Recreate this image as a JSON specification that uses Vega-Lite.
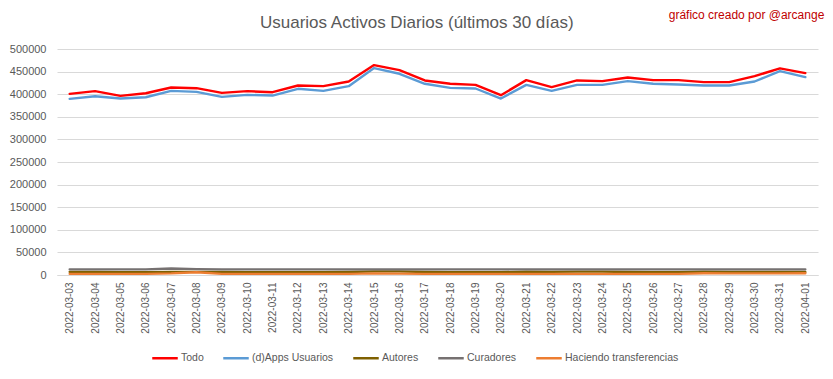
{
  "$schema": "https://vega.github.io/schema/vega-lite/v6.json",
  "autosize": {"type": "none"},
  "width": 761,
  "height": 226,
  "padding": {"left": 57, "top": 49, "right": 15, "bottom": 104},
  "background": "white",
  "datasets": {
    "series": [
      {"fecha": "2022-03-03", "Todo": 400700, "Apps": 389600, "Autores": 7000, "Curadores": 12500, "Trans": 2500},
      {"fecha": "2022-03-04", "Todo": 406700, "Apps": 395600, "Autores": 7000, "Curadores": 12500, "Trans": 2500},
      {"fecha": "2022-03-05", "Todo": 396300, "Apps": 390400, "Autores": 6000, "Curadores": 12500, "Trans": 2500},
      {"fecha": "2022-03-06", "Todo": 402200, "Apps": 393300, "Autores": 6000, "Curadores": 12500, "Trans": 2500},
      {"fecha": "2022-03-07", "Todo": 414800, "Apps": 407400, "Autores": 6500, "Curadores": 14500, "Trans": 3500},
      {"fecha": "2022-03-08", "Todo": 413300, "Apps": 405200, "Autores": 7000, "Curadores": 13000, "Trans": 6000},
      {"fecha": "2022-03-09", "Todo": 403000, "Apps": 394100, "Autores": 6500, "Curadores": 12500, "Trans": 2500},
      {"fecha": "2022-03-10", "Todo": 406700, "Apps": 398500, "Autores": 6000, "Curadores": 12500, "Trans": 2500},
      {"fecha": "2022-03-11", "Todo": 404400, "Apps": 397000, "Autores": 6000, "Curadores": 12500, "Trans": 2500},
      {"fecha": "2022-03-12", "Todo": 419300, "Apps": 411900, "Autores": 6000, "Curadores": 12500, "Trans": 2500},
      {"fecha": "2022-03-13", "Todo": 417800, "Apps": 407400, "Autores": 6000, "Curadores": 12500, "Trans": 2500},
      {"fecha": "2022-03-14", "Todo": 428100, "Apps": 417800, "Autores": 6500, "Curadores": 12500, "Trans": 2500},
      {"fecha": "2022-03-15", "Todo": 464400, "Apps": 457800, "Autores": 8000, "Curadores": 12500, "Trans": 3500},
      {"fecha": "2022-03-16", "Todo": 453300, "Apps": 445200, "Autores": 8000, "Curadores": 12500, "Trans": 3000},
      {"fecha": "2022-03-17", "Todo": 430400, "Apps": 423000, "Autores": 6500, "Curadores": 12500, "Trans": 2500},
      {"fecha": "2022-03-18", "Todo": 423000, "Apps": 414100, "Autores": 6000, "Curadores": 12500, "Trans": 2500},
      {"fecha": "2022-03-19", "Todo": 420700, "Apps": 412600, "Autores": 6000, "Curadores": 12500, "Trans": 2500},
      {"fecha": "2022-03-20", "Todo": 397800, "Apps": 390400, "Autores": 6000, "Curadores": 12500, "Trans": 2500},
      {"fecha": "2022-03-21", "Todo": 431100, "Apps": 420700, "Autores": 7500, "Curadores": 12500, "Trans": 2500},
      {"fecha": "2022-03-22", "Todo": 415600, "Apps": 407400, "Autores": 7000, "Curadores": 12500, "Trans": 2500},
      {"fecha": "2022-03-23", "Todo": 430400, "Apps": 420700, "Autores": 7500, "Curadores": 12500, "Trans": 2500},
      {"fecha": "2022-03-24", "Todo": 428900, "Apps": 420700, "Autores": 7500, "Curadores": 12500, "Trans": 2500},
      {"fecha": "2022-03-25", "Todo": 437000, "Apps": 428900, "Autores": 6500, "Curadores": 12500, "Trans": 2500},
      {"fecha": "2022-03-26", "Todo": 431100, "Apps": 423000, "Autores": 6000, "Curadores": 12500, "Trans": 2500},
      {"fecha": "2022-03-27", "Todo": 431100, "Apps": 421500, "Autores": 6000, "Curadores": 12500, "Trans": 2500},
      {"fecha": "2022-03-28", "Todo": 426700, "Apps": 419300, "Autores": 7500, "Curadores": 12500, "Trans": 4000},
      {"fecha": "2022-03-29", "Todo": 426700, "Apps": 419300, "Autores": 6500, "Curadores": 12500, "Trans": 3500},
      {"fecha": "2022-03-30", "Todo": 440000, "Apps": 428100, "Autores": 6500, "Curadores": 12500, "Trans": 3500},
      {"fecha": "2022-03-31", "Todo": 457000, "Apps": 451000, "Autores": 6500, "Curadores": 12500, "Trans": 3500},
      {"fecha": "2022-04-01", "Todo": 446700, "Apps": 437800, "Autores": 6500, "Curadores": 12500, "Trans": 4000}
    ],
    "textos": [
      {"texto": "Usuarios Activos Diarios (últimos 30 días)", "fecha": "2022-03-17", "v": 500000, "tipo": "titulo"},
      {"texto": "gráfico creado por @arcange", "fecha": "2022-04-01", "v": 500000, "tipo": "credito"}
    ]
  },
  "resolve": {"axis": {"x": "independent", "y": "independent"}},
  "layer": [
    {
      "data": {"name": "series"},
      "transform": [
        {"fold": ["Todo", "Apps", "Autores", "Curadores", "Trans"], "as": ["clave", "valor"]},
        {"lookup": "clave", "from": {"data": {"values": [
          {"clave": "Todo", "serie": "Todo", "orden": 5},
          {"clave": "Apps", "serie": "(d)Apps Usuarios", "orden": 4},
          {"clave": "Autores", "serie": "Autores", "orden": 2},
          {"clave": "Curadores", "serie": "Curadores", "orden": 1},
          {"clave": "Trans", "serie": "Haciendo transferencias", "orden": 3}
        ]}, "key": "clave", "fields": ["serie", "orden"]}}
      ],
      "mark": {"type": "line", "strokeWidth": 2.4, "strokeJoin": "round", "strokeCap": "round"},
      "encoding": {
        "x": {
          "field": "fecha", "type": "ordinal",
          "scale": {"type": "point", "padding": 0.5},
          "axis": {
            "title": null,
            "labelAngle": -90,
            "labelAlign": "right",
            "labelBaseline": "middle",
            "labelPadding": 7,
            "labelFont": "Liberation Sans",
            "labelFontSize": 10,
            "labelColor": "#595959",
            "labelOverlap": false,
            "ticks": false,
            "domainColor": "#D9D9D9",
            "domainWidth": 1,
            "grid": false
          }
        },
        "y": {
          "field": "valor", "type": "quantitative",
          "scale": {"domain": [0, 500000], "nice": false},
          "axis": {
            "title": null,
            "values": [0, 50000, 100000, 150000, 200000, 250000, 300000, 350000, 400000, 450000, 500000],
            "format": "d",
            "labelFont": "Liberation Sans",
            "labelFontSize": 11,
            "labelColor": "#595959",
            "labelPadding": 11,
            "labelOverlap": false,
            "ticks": false,
            "domain": false,
            "gridColor": "#D9D9D9",
            "gridWidth": 1
          }
        },
        "color": {
          "field": "serie", "type": "nominal",
          "scale": {
            "domain": ["Todo", "(d)Apps Usuarios", "Autores", "Curadores", "Haciendo transferencias"],
            "range": ["#FF0000", "#5B9BD5", "#7F6000", "#767171", "#ED7D31"]
          },
          "legend": {
            "title": null,
            "orient": "none",
            "direction": "horizontal",
            "legendX": 94,
            "legendY": 295,
            "symbolType": "stroke",
            "symbolSize": 650,
            "symbolStrokeWidth": 2.5,
            "symbolOffset": 0,
            "labelFont": "Liberation Sans",
            "labelFontSize": 10.5,
            "labelColor": "#595959",
            "labelOffset": 2,
            "columnPadding": 14
          }
        },
        "order": {"field": "orden", "type": "quantitative"}
      }
    },
    {
      "data": {"name": "textos"},
      "transform": [{"filter": "datum.tipo === 'titulo'"}],
      "mark": {"type": "text", "align": "center", "baseline": "middle", "dx": -8, "dy": -26, "font": "Liberation Sans", "fontSize": 17, "color": "#595959"},
      "encoding": {
        "x": {"field": "fecha", "type": "ordinal", "axis": null},
        "y": {"field": "v", "type": "quantitative", "axis": null},
        "text": {"field": "texto"}
      }
    },
    {
      "data": {"name": "textos"},
      "transform": [{"filter": "datum.tipo === 'credito'"}],
      "mark": {"type": "text", "align": "right", "baseline": "middle", "dx": 19, "dy": -34, "font": "Liberation Sans", "fontSize": 12, "color": "#C00000"},
      "encoding": {
        "x": {"field": "fecha", "type": "ordinal", "axis": null},
        "y": {"field": "v", "type": "quantitative", "axis": null},
        "text": {"field": "texto"}
      }
    }
  ],
  "config": {
    "view": {"stroke": null}
  }
}
